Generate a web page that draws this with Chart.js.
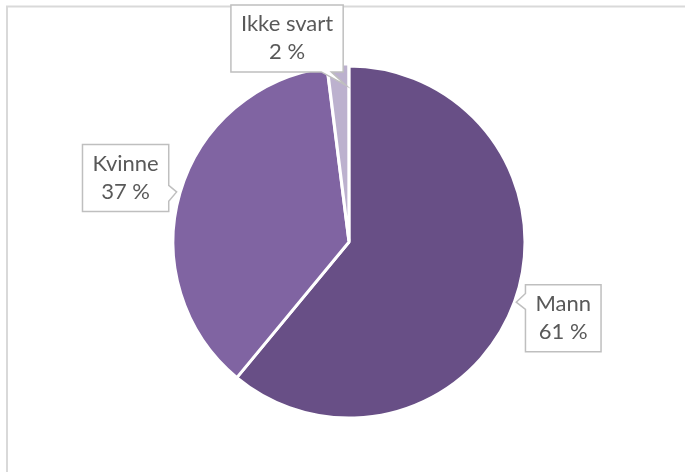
<!DOCTYPE html>
<html>
<head>
<meta charset="utf-8">
<script src="https://cdn.jsdelivr.net/npm/chart.js@4/dist/chart.umd.min.js"></script>
<style>
  html, body { margin: 0; padding: 0; background: #fff; }
  canvas { display: block; }
</style>
</head>
<body>
<canvas id="pie" width="685" height="472"></canvas>
<script>
const labels = ['Mann', 'Kvinne', 'Ikke svart'];
const values = [61, 37, 2];
const colors = ['#684F86', '#8064A2', '#BCB1CE'];

// where each callout sits relative to its slice
const callouts = [
  { angle: 0.5, radius: 1.01, side: 'left', at: 0.25, dx: 47, dy: 16 },
  { angle: 0.5, radius: 1.02, side: 'right', at: 0.73, dx: -51, dy: -14 },
  { angle: 0.85, radius: 0.89, side: 'bottom', at: 0.85, dx: -59, dy: -47 }
];

const FONT = '22px Lato';

const frame = {
  id: 'frame',
  beforeDraw(chart) {
    const ctx = chart.ctx;
    ctx.save();
    ctx.strokeStyle = '#D9D9D9';
    ctx.lineWidth = 2;
    ctx.beginPath();
    ctx.moveTo(7, chart.height);
    ctx.lineTo(7, 6.5);
    ctx.lineTo(chart.width, 6.5);
    ctx.stroke();
    ctx.restore();
  }
};

function calloutPath(ctx, bx, by, w, h, tx, ty, side, at) {
  const half = 8;
  ctx.beginPath();
  ctx.moveTo(bx, by);
  if (side === 'top') {
    const c = bx + w * at;
    ctx.lineTo(c - half, by); ctx.lineTo(tx, ty); ctx.lineTo(c + half, by);
  }
  ctx.lineTo(bx + w, by);
  if (side === 'right') {
    const c = by + h * at;
    ctx.lineTo(bx + w, c - half); ctx.lineTo(tx, ty); ctx.lineTo(bx + w, c + half);
  }
  ctx.lineTo(bx + w, by + h);
  if (side === 'bottom') {
    const c = bx + w * at;
    ctx.lineTo(c + half / 1.6, by + h); ctx.lineTo(tx, ty); ctx.lineTo(c - half / 1.6, by + h);
  }
  ctx.lineTo(bx, by + h);
  if (side === 'left') {
    const c = by + h * at;
    ctx.lineTo(bx, c + half); ctx.lineTo(tx, ty); ctx.lineTo(bx, c - half);
  }
  ctx.closePath();
}

const calloutLabels = {
  id: 'calloutLabels',
  afterDatasetsDraw(chart) {
    const ctx = chart.ctx;
    const meta = chart.getDatasetMeta(0);
    const data = chart.data.datasets[0].data;
    const total = data.reduce((a, b) => a + b, 0);
    ctx.save();
    ctx.font = FONT;
    meta.data.forEach((arc, i) => {
      const c = callouts[i];
      const p = arc.getProps(['x', 'y', 'startAngle', 'endAngle', 'outerRadius'], true);
      const a = p.startAngle + (p.endAngle - p.startAngle) * c.angle;
      const r = p.outerRadius * c.radius;
      const tx = p.x + Math.cos(a) * r;
      const ty = p.y + Math.sin(a) * r;

      const lines = [chart.data.labels[i], Math.round(data[i] / total * 100) + ' %'];
      const w = Math.max(...lines.map(t => ctx.measureText(t).width)) + 20;
      const h = 67;
      const bx = tx + c.dx - w / 2;
      const by = ty + c.dy - h / 2;

      calloutPath(ctx, bx, by, w, h, tx, ty, c.side, c.at);
      ctx.fillStyle = '#FFFFFF';
      ctx.fill();
      ctx.strokeStyle = '#BFBFBF';
      ctx.lineWidth = 1.5;
      ctx.stroke();

      ctx.fillStyle = '#595959';
      ctx.textAlign = 'center';
      ctx.textBaseline = 'middle';
      ctx.fillText(lines[0], bx + w / 2, by + h / 2 - 14);
      ctx.fillText(lines[1], bx + w / 2, by + h / 2 + 14);
    });
    ctx.restore();
  }
};

new Chart(document.getElementById('pie'), {
  type: 'pie',
  data: {
    labels: labels,
    datasets: [{
      data: values,
      backgroundColor: colors,
      borderColor: '#FFFFFF',
      borderWidth: 3,
      offset: [0, 0, 5]
    }]
  },
  options: {
    responsive: false,
    animation: false,
    layout: { padding: { top: 62, bottom: 50, left: 96, right: 83 } },
    plugins: {
      legend: { display: false },
      tooltip: { enabled: false }
    }
  },
  plugins: [frame, calloutLabels]
});
</script>
</body>
</html>
